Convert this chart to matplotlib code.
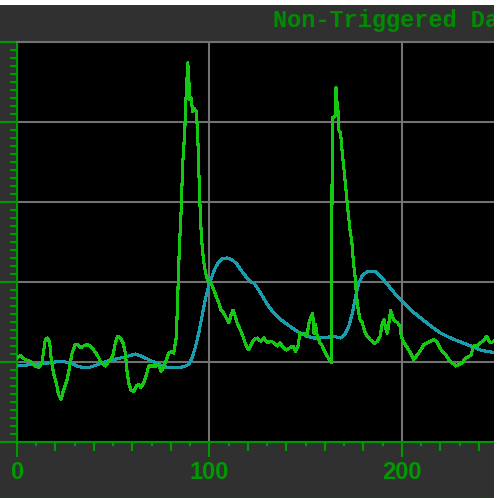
import matplotlib as mpl
mpl.use('Agg')
import matplotlib.pyplot as plt
from matplotlib.patches import Rectangle
from matplotlib.lines import Line2D
from matplotlib.ticker import MultipleLocator, FixedLocator, NullFormatter

# green trace (non-triggered data)
green_x = [0, 1.7, 4.3, 6.9, 9.5, 11.3, 13.0, 13.9, 14.7, 15.9, 17.0, 17.8, 19.0, 20.4,
           21.6, 22.9, 24.2, 26.0, 27.4, 28.6, 30.3, 31.5, 33.2, 34.6, 36.4, 38.1, 39.8,
           41.6, 43.3, 44.7, 45.9, 47.1, 48.5, 49.9, 51.1, 52.3, 53.7, 55.1, 56.3, 57.1,
           58.0, 59.2, 60.6, 62.0, 63.2, 64.4, 65.8, 67.2, 68.4, 70.1, 72.4, 73.6, 74.8,
           76.2, 77.6, 78.8, 80.0, 81.4, 82.8, 83.5, 84.3, 85.2, 86.1, 87.1, 87.8, 88.7,
           89.2, 89.7, 90.4, 91.3, 92.1, 93.2, 93.9, 94.7, 95.4, 96.3, 97.3, 98.4, 99.6,
           100.8, 102.2, 103.5, 104.8, 106.0, 107.4, 108.7, 110.1, 111.2, 112.2, 113.4,
           114.6, 116.0, 117.4, 118.8, 120.3, 122.1,
           123.1, 124.8, 126.6, 128.3, 130.0, 131.8, 133.5, 135.2, 136.6, 138.3, 140.1,
           141.8, 143.5, 144.7, 146.0, 147.0, 148.2, 149.4, 150.5, 151.7, 152.9, 153.6,
           154.3, 155.1, 156.0, 157.4, 158.6, 159.8, 161.2, 162.6, 163.3, 163.8, 165.2,
           165.7, 166.2, 166.6, 167.1, 168.1, 169.0, 169.9, 170.9, 171.9, 173.0, 174.0,
           174.7, 175.6, 176.4, 177.3, 178.2, 179.4, 180.6, 182.0, 183.4, 184.6, 185.8,
           187.2, 188.6, 189.8, 190.6, 191.5, 192.4, 193.2, 194.1, 195.0, 195.8, 197.6,
           199.0, 199.6, 201.0, 202.8, 204.5, 206.2, 208.0, 209.7, 211.4, 213.1, 214.9,
           216.6, 218.0, 219.2, 220.9, 222.7, 224.4, 226.1, 227.9, 229.6, 231.3, 233.1,
           234.8, 236.0, 237.0, 238.8, 240.5, 242.2, 244.0, 245.2, 246.4, 247.8]
green_y = [1.05, 1.08, 1.03, 1.01, 0.95, 0.93, 0.99, 1.15, 1.28, 1.30, 1.24, 1.03, 0.86, 0.74,
           0.59, 0.53, 0.65, 0.78, 0.95, 1.11, 1.22, 1.22, 1.18, 1.20, 1.22, 1.20, 1.15,
           1.09, 1.01, 0.97, 0.95, 0.99, 1.03, 1.09, 1.24, 1.32, 1.30, 1.24, 1.11, 0.90,
           0.74, 0.65, 0.63, 0.70, 0.72, 0.68, 0.74, 0.84, 0.95, 0.95, 0.95, 0.97, 0.88,
           0.93, 1.03, 1.11, 1.13, 1.11, 1.32, 1.82, 2.40, 2.86, 3.49, 3.86, 4.30, 4.74,
           4.57, 4.28, 4.30, 4.13, 4.17, 4.13, 3.82, 3.20, 2.74, 2.40, 2.20, 2.07, 1.99,
           1.99, 1.90, 1.82, 1.74, 1.65, 1.61, 1.55, 1.49, 1.59, 1.65, 1.57,
           1.47, 1.40, 1.32, 1.22, 1.15, 1.24,
           1.28, 1.30, 1.26, 1.30, 1.24, 1.26, 1.24, 1.20, 1.24, 1.18, 1.15,
           1.18, 1.20, 1.13, 1.20, 1.36, 1.34, 1.36, 1.32, 1.49, 1.57, 1.61,
           1.36, 1.47, 1.32, 1.24, 1.20, 1.13, 1.07, 1.01, 0.99, 4.05, 4.07,
           4.43, 4.11, 4.24, 3.90, 3.86, 3.61, 3.40, 3.15, 2.90, 2.65, 2.49,
           2.26, 2.07, 1.82, 1.65, 1.53, 1.49, 1.38, 1.32, 1.28, 1.26, 1.23,
           1.26, 1.32, 1.49, 1.53, 1.43, 1.36, 1.49, 1.65, 1.57, 1.53, 1.49,
           1.45, 1.32, 1.24, 1.18, 1.11, 1.03, 1.09, 1.15, 1.22, 1.24, 1.26,
           1.28, 1.26, 1.20, 1.13, 1.09, 1.03, 0.99, 0.95, 0.97, 0.99, 1.05,
           1.07, 1.09, 1.20, 1.20, 1.24, 1.26, 1.32, 1.26, 1.24, 1.26]

# cyan trace
cyan_x = [0, 8.7, 17.3, 22.5, 27.7, 31.2, 34.6, 37.2, 39.8, 43.3, 46.8, 50.2, 53.7, 57.1,
          61.5, 64.9, 68.4, 71.9, 75.3, 78.8, 83.1, 86.6, 89.2, 90.9, 92.6, 94.4, 96.1,
          97.8, 99.6, 101.3, 103.0, 104.8, 106.5, 109.1, 111.7, 114.3, 116.9, 119.5, 122.1,
          123.1, 126.6, 130.0, 133.5, 137.0, 140.4, 143.9, 147.3, 150.8, 154.3, 157.7,
          161.2, 164.7, 168.1, 170.7, 172.4, 174.2, 175.9, 177.6, 179.4, 182.0, 186.3,
          188.9, 192.4, 195.8, 200.2, 204.5, 209.7, 214.9, 220.1, 225.3, 230.5, 235.7,
          240.8, 244.3, 247.8]
cyan_y = [0.95, 0.97, 0.99, 1.01, 0.99, 0.95, 0.93, 0.93, 0.95, 0.98, 1.01, 1.03, 1.05, 1.07,
          1.10, 1.07, 1.03, 0.99, 0.95, 0.93, 0.93, 0.94, 0.97, 1.05, 1.18, 1.36, 1.57,
          1.78, 1.95, 2.07, 2.18, 2.25, 2.29, 2.30, 2.28, 2.22, 2.13, 2.05, 1.99,
          1.99, 1.86, 1.72, 1.61, 1.53, 1.47, 1.41, 1.36, 1.32, 1.30, 1.30,
          1.31, 1.32, 1.30, 1.36, 1.45, 1.61, 1.82, 1.99, 2.08, 2.13, 2.13,
          2.07, 1.97, 1.87, 1.76, 1.65, 1.55, 1.45, 1.36, 1.30, 1.25, 1.20,
          1.15, 1.13, 1.12]

x_major = [0, 100, 200]
x_mid = [20, 40, 60, 80, 120, 140, 160, 180, 220, 240]
title = 'Non-Triggered Data'

bg = '#303030'
tick_green = '#009a00'
W, H = 501, 498

fig = plt.figure(figsize=(W / 100, H / 100), dpi=100, facecolor=bg)
ax = fig.add_axes([17 / W, 56 / H, 477 / W, 400 / H])
ax.set_facecolor('black')

ax.plot(cyan_x, cyan_y, color='#1a9dac', lw=1.5, zorder=3, antialiased=False)
ax.plot(green_x, green_y, color='#14c814', lw=1.5, zorder=4, antialiased=False)

ax.set_xlim(0, 247.8)
ax.set_ylim(0, 5)
ax.xaxis.set_major_locator(FixedLocator(x_major))
ax.xaxis.set_minor_locator(MultipleLocator(10))
ax.yaxis.set_major_locator(MultipleLocator(1))
ax.yaxis.set_minor_locator(MultipleLocator(0.1))
ax.yaxis.set_major_formatter(NullFormatter())

ax.grid(True, which='major', color='#727272', lw=1.5)
ax.set_axisbelow(True)

for s in ['left', 'bottom']:
    ax.spines[s].set_color(tick_green)
    ax.spines[s].set_linewidth(1.5)
ax.spines['top'].set_color('#727272')
ax.spines['top'].set_linewidth(1.5)
ax.spines['right'].set_visible(False)

ax.tick_params(axis='x', which='major', direction='out', length=11, width=1.5,
               color=tick_green, labelcolor=tick_green, labelsize=17, pad=3)
ax.tick_params(axis='x', which='minor', direction='out', length=3, width=1.5, color=tick_green)
ax.tick_params(axis='y', which='major', direction='out', length=12.5, width=1.5, color=tick_green)
ax.tick_params(axis='y', which='minor', direction='out', length=5, width=1.5, color=tick_green)
for lab in ax.get_xticklabels():
    lab.set_fontfamily('Liberation Sans')
    lab.set_fontweight('bold')

# medium ticks every 20 on the x axis
sec = ax.secondary_xaxis('bottom')
sec.set_xticks(x_mid)
sec.set_xticklabels([])
sec.tick_params(direction='out', length=6.5, width=1.5, color=tick_green)
sec.spines['bottom'].set_visible(False)

fig.text(273 / W, 1 - 27 / H, title, color='#008c00', fontsize=17,
         family='Liberation Mono', fontweight='bold', va='baseline', ha='left')

# white margins on the top and right (screenshot border)
fig.add_artist(Line2D([0, 494 / W], [0.5 / H, 0.5 / H], color='#006000', lw=1,
                      transform=fig.transFigure, zorder=50))
fig.add_artist(Rectangle((494 / W, 0), 7 / W, 1, transform=fig.transFigure,
                         facecolor='white', edgecolor='none', zorder=100))
fig.add_artist(Rectangle((0, 1 - 5 / H), 1, 5 / H, transform=fig.transFigure,
                         facecolor='white', edgecolor='none', zorder=100))

fig.savefig('out.png', dpi=100, facecolor=bg)
